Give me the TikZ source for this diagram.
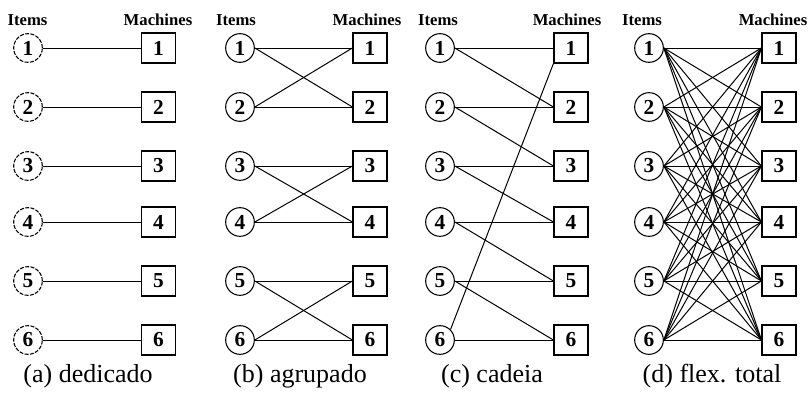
\documentclass[tikz,border=0pt]{standalone}
\usepackage{fontspec}
\setmainfont{Liberation Serif}
\begin{document}
\begin{tikzpicture}[x=0.75pt,y=-0.75pt,
  item/.style={circle,draw,line width=0.8pt,minimum size=21.5pt,inner sep=0pt,
    font=\fontsize{16}{16}\selectfont\bfseries},
  itemdash/.style={item,dash pattern=on 3pt off 1pt},
  machine/.style={rectangle,draw,line width=0.9pt,minimum width=25.5pt,
    minimum height=22.5pt,inner sep=0pt,font=\fontsize{16}{16}\selectfont\bfseries},
  head/.style={anchor=base,inner sep=0pt,font=\fontsize{12.5}{12.5}\selectfont\bfseries},
  caption/.style={anchor=base,inner sep=0pt,font=\fontsize{19.5}{19.5}\selectfont},
  link/.style={line width=0.75pt}]
\useasboundingbox (0,0) rectangle (812,396);

% rows: index / vertical position
\def\rows{1/48,2/107,3/166,4/222,5/281,6/340}

% panel (a): dedicated
\node[head] (a-hi) at (27.5,25) {Items};
\node[head] (a-hm) at (158,25) {Machines};
\foreach \r/\y in \rows {
  \node[itemdash] (a-i\r) at (28,\y) {\r};
  \node[machine] (a-m\r) at (158.5,\y) {\r};
  \draw[link] (a-i\r.east) -- (a-m\r.west);
}
\node[caption] (a-cap) at (88,382) {(a) dedicado};

% panel (b): grouped in pairs
\node[head] (b-hi) at (236,25) {Items};
\node[head] (b-hm) at (367,25) {Machines};
\foreach \r/\y in \rows {
  \node[item] (b-i\r) at (240,\y) {\r};
  \node[machine] (b-m\r) at (370,\y) {\r};
}
\foreach \p/\q in {1/2,3/4,5/6} {
  \draw[link] (b-i\p.east) -- (b-m\p.west);
  \draw[link] (b-i\p.east) -- (b-m\q.west);
  \draw[link] (b-i\q.east) -- (b-m\p.west);
  \draw[link] (b-i\q.east) -- (b-m\q.west);
}
\node[caption] (b-cap) at (300,382) {(b) agrupado};

% panel (c): chain
\node[head] (c-hi) at (438,25) {Items};
\node[head] (c-hm) at (567,25) {Machines};
\foreach \r/\y in \rows {
  \node[item] (c-i\r) at (440,\y) {\r};
  \node[machine] (c-m\r) at (571,\y) {\r};
  \draw[link] (c-i\r.east) -- (c-m\r.west);
}
\foreach \p/\q in {1/2,2/3,3/4,4/5,5/6} {
  \draw[link] (c-i\p.east) -- (c-m\q.west);
}
\draw[link] (c-i6.north east) -- (c-m1.south west);
\node[caption] (c-cap) at (492,382) {(c) cadeia};

% panel (d): full flexibility
\node[head] (d-hi) at (642,25) {Items};
\node[head] (d-hm) at (773,25) {Machines};
\foreach \r/\y in \rows {
  \node[item] (d-i\r) at (649,\y) {\r};
  \node[machine] (d-m\r) at (779,\y) {\r};
}
\foreach \p in {1,...,6} {
  \foreach \q in {1,...,6} {
    \draw[link] (d-i\p.east) -- (d-m\q.west);
  }
}
\node[caption] (d-cap) at (712,382) {(d) flex. total};
\end{tikzpicture}
\end{document}
